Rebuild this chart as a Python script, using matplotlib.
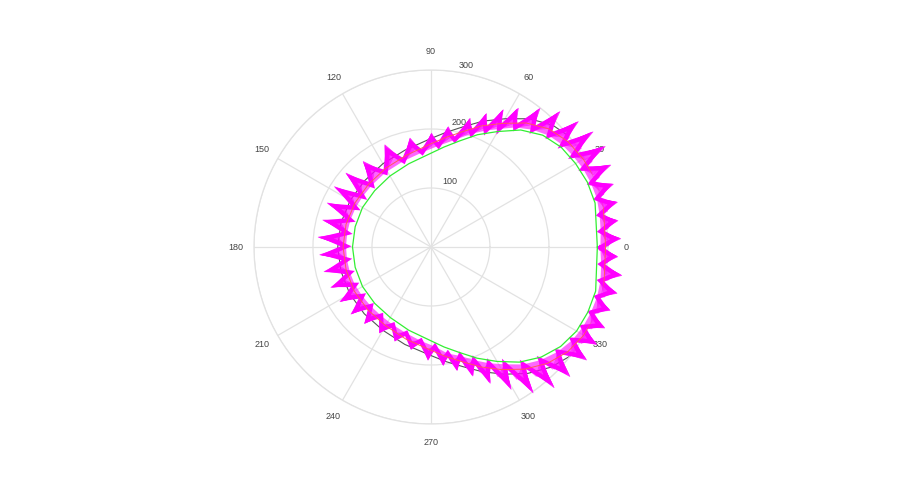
import matplotlib
matplotlib.use("Agg")
import matplotlib.pyplot as plt
import numpy as np

plt.rcParams.update({
    "font.family": ["Liberation Sans", "DejaVu Sans"],
    "font.size": 6.5,
    "figure.facecolor": "white",
})

# smooth reference curves (denser where the outline bends)
curve_deg = [0, 15, 22.5, 30, 37.5, 45, 52.5, 60, 67.5, 75, 82.5, 90, 105, 120, 135, 150, 165,
             180, 195, 210, 225, 240, 255, 270, 277.5, 285, 292.5, 300, 307.5, 315, 322.5,
             330, 337.5, 345]
green_r = [282, 288, 287, 283, 278, 268, 250, 226, 206, 186, 171, 159, 146, 139, 135, 134, 133,
           133, 133, 134, 135, 138, 146, 159, 171, 185, 204, 224, 246, 264, 277,
           285, 288, 289]
red_r = [296, 302, 302, 298, 293, 283, 265, 242, 222, 202, 187, 175, 161, 154, 150, 149, 149,
         149, 149, 150, 151, 154, 162, 175, 187, 201, 220, 240, 261, 279, 292,
         299, 303, 303]
black_r = [305, 311, 311, 307, 302, 292, 274, 251, 231, 211, 196, 184, 170, 163, 159, 158, 158,
           158, 158, 159, 160, 163, 171, 184, 196, 210, 229, 249, 270, 288, 301,
           308, 312, 312]

# spiky magenta trace: tip of each spike and the dip that follows it
tip_deg = [2.5, 8, 13.5, 19, 24.5, 30, 35.4, 40.4, 46.4, 51.8, 57.8, 62.2, 67.4, 73.1,
           81.8, 89.7, 100.9, 114.3, 128.4, 139, 148, 157, 166, 175, 184, 193, 202,
           211, 220, 229, 239, 249, 259, 268.5, 276, 282, 288, 293.5, 299.4, 305, 311.2,
           317, 324, 329.5, 335, 340.5, 346, 351.5, 357]
tip_r = [322, 320, 325, 327, 335, 341, 337, 328, 317, 299, 278, 263, 245, 228,
         206, 193, 188, 190, 185, 191, 193, 191, 189, 192, 189, 186, 183,
         180, 177, 172, 170, 171, 177, 192, 202, 214, 230, 252, 277, 302, 317,
         322, 326, 326, 325, 322, 325, 327, 317]
dip_deg = [5.25, 10.75, 16.25, 21.75, 27.25, 32.7, 37.9, 43.4, 49.1, 54.8, 60, 64.8, 70.25,
           77.45, 85.75, 95.3, 107.6, 121.35, 133.7, 143.5, 152.5, 161.5, 170.5, 179.5,
           188.5, 197.5, 206.5, 215.5, 224.5, 234, 244, 254, 263.75, 272.25, 279, 285,
           290.75, 296.45, 302.2, 308.1, 314.1, 320.5, 326.75, 332.25, 337.75, 343.25,
           348.75, 354.25, 359.75]
dip_r = [289, 291, 293, 292, 290, 286, 282, 275, 263, 248, 231, 218, 204,
         186, 172, 161, 153, 148, 145, 144, 144, 144, 144, 144,
         144, 144, 144, 143, 143, 144, 147, 152, 160, 169, 183, 191,
         205, 220, 235, 253, 267, 279, 287, 291, 293, 294,
         293, 290, 287]

angle_ticks = [0, 30, 60, 90, 120, 150, 180, 210, 240, 270, 300, 330]
radial_ticks = [100, 200, 300]

GRID = "#e2e2e2"
TXT = "#444444"
MAGENTA = "#ff00ff"

fig = plt.figure(figsize=(9, 5), dpi=100)
ax = fig.add_axes([0.2822, 0.152, 0.3933, 0.708], projection="polar")
ax.set_theta_zero_location("E")
ax.set_theta_direction(1)
ax.set_ylim(0, 300)

ax.set_thetagrids(angle_ticks, labels=[""] * len(angle_ticks))
ax.set_rgrids(radial_ticks, labels=[""] * len(radial_ticks))
ax.grid(True, color=GRID, linewidth=0.9)
ax.spines["polar"].set_color(GRID)
ax.spines["polar"].set_linewidth(0.9)
ax.tick_params(length=0)

for a in angle_ticks:
    ax.text(np.radians(a), 331, str(a), ha="center", va="center",
            color=TXT, clip_on=False)
# radial labels sit just right of the vertical spoke
for r, a, lab in [(116, 73.9, "100"), (217, 77.4, "200"), (314, 79.1, "300")]:
    ax.text(np.radians(a), r, lab, ha="center", va="center", color=TXT, clip_on=False)


def closed(deg, r):
    th = np.radians(list(deg) + [deg[0] + 360])
    return th, list(r) + [r[0]]


th_c, g = closed(curve_deg, green_r)
_, rr = closed(curve_deg, red_r)
_, bb = closed(curve_deg, black_r)
ax.plot(th_c, bb, color="#555555", lw=0.8, zorder=2)

th_tip = np.radians(tip_deg)
th_dip = np.radians(dip_deg)
r_tip = np.array(tip_r, dtype=float)
r_dip = np.array(dip_r, dtype=float)
prev_th = np.roll(th_dip, 1)
prev_th[0] -= 2 * np.pi
prev_r = np.roll(r_dip, 1)

# each spike: a fan of thin strokes over a half-transparent fill
for i in range(len(th_tip)):
    base = 0.5 * (prev_r[i] + r_dip[i])
    ext = r_tip[i] - base
    ax.fill([prev_th[i], th_tip[i], th_dip[i]],
            [prev_r[i], r_tip[i], r_dip[i]],
            color=MAGENTA, lw=0, alpha=0.6, zorder=3, clip_on=False)
    for k, f in enumerate(np.linspace(0.4, 1.0, 14)):
        lean = -0.03 + 0.0045 * k
        ax.plot([prev_th[i], th_tip[i] + lean * (1 - f) * 2, th_dip[i]],
                [prev_r[i], base + f * ext, r_dip[i]],
                color=MAGENTA, lw=0.5, alpha=0.75, zorder=3, clip_on=False)

# solid zigzag backbone
zig_th = []
zig_r = []
for i in range(len(th_tip)):
    base = 0.5 * (prev_r[i] + r_dip[i])
    zig_th += [prev_th[i], th_tip[i]]
    zig_r += [prev_r[i], base + 0.7 * (r_tip[i] - base)]
zig_th.append(zig_th[0] + 2 * np.pi)
zig_r.append(zig_r[0])
ax.plot(zig_th, zig_r, color=MAGENTA, lw=3.2, zorder=3, clip_on=False,
        solid_joinstyle="miter")

ax.plot(th_c, rr, color="#ff5a5a", lw=0.7, zorder=4)
ax.plot(th_c, g, color="#33ee33", lw=0.9, zorder=4)

fig.savefig("out.png", dpi=100, facecolor="white")
